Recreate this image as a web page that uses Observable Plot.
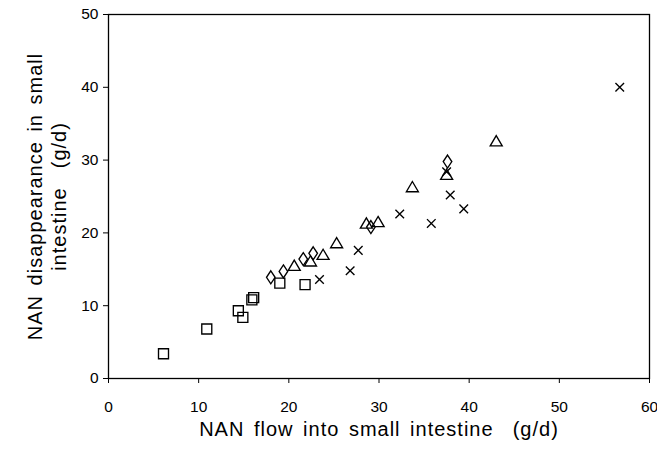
<!DOCTYPE html>
<html>
<head>
<meta charset="utf-8">
<script src="https://cdn.jsdelivr.net/npm/d3@7"></script>
<script src="https://cdn.jsdelivr.net/npm/@observablehq/plot@0.6"></script>
<style>
  html, body { margin: 0; padding: 0; background: #fff; }
  #chart svg { display: block; }
  #chart g[aria-label="text"] text { letter-spacing: 1px; word-spacing: 3px; }
</style>
</head>
<body>
<div id="chart"></div>
<script>
// Data: [x (NAN flow, g/d), y (NAN disappearance, g/d)]
const squares = [[6.1,3.4],[10.9,6.8],[14.4,9.3],[14.9,8.4],[15.9,10.8],[16.1,11.1],[19.0,13.1],[21.8,12.9]];
const diamonds = [[18.0,13.9],[19.4,14.7],[21.6,16.4],[22.7,17.2],[29.1,20.8],[37.6,29.8]];
const triangles = [[20.6,15.5],[22.4,16.1],[23.8,17.0],[25.3,18.6],[28.6,21.3],[29.9,21.5],[33.7,26.3],[37.5,28.0],[43.0,32.6]];
const crosses = [[23.4,13.6],[26.8,14.8],[27.7,17.6],[32.3,22.6],[35.8,21.3],[37.5,28.4],[37.9,25.2],[39.4,23.3],[56.7,40.0]];
const xTicks = [0,10,20,30,40,50,60];
const yTicks = [0,10,20,30,40,50];
const xLabel = "NAN flow into small intestine  (g/d)";
const yLabel = "NAN disappearance in small\nintestine  (g/d)";

// custom hollow symbols (size = r*r*PI)
const rad = s => Math.sqrt(s / Math.PI);
const symSquare = {draw(c, s) { const r = rad(s); c.rect(-r, -r, 2*r, 2*r); }};
const symDiamond = {draw(c, s) { const r = rad(s); c.moveTo(0,-r); c.lineTo(0.66*r,0); c.lineTo(0,r); c.lineTo(-0.66*r,0); c.closePath(); }};
const symTriangle = {draw(c, s) { const r = rad(s); c.moveTo(0,-0.92*r); c.lineTo(r,0.78*r); c.lineTo(-r,0.78*r); c.closePath(); }};
const symTimes = {draw(c, s) { const r = rad(s); c.moveTo(-r,-r); c.lineTo(r,r); c.moveTo(r,-r); c.lineTo(-r,r); }};

const dotOpts = (sym, r) => ({x: d => d[0], y: d => d[1], symbol: sym, r, fill: "none", stroke: "black", strokeWidth: 1.35});

const chart = Plot.plot({
  width: 657,
  height: 450,
  marginLeft: 108,
  marginRight: 8,
  marginTop: 14,
  marginBottom: 72,
  style: {fontFamily: "'Liberation Sans', Arial, sans-serif", color: "black", background: "white"},
  x: {domain: [0, 60]},
  y: {domain: [0, 50]},
  marks: [
    Plot.frame({stroke: "black", strokeWidth: 1.3}),
    Plot.axisX({ticks: xTicks, tickSize: 5, tickPadding: 17, fontSize: 15.5, label: null, stroke: "black"}),
    Plot.axisY({ticks: yTicks, tickSize: 5, tickPadding: 5, fontSize: 15.5, label: null, stroke: "black"}),
    Plot.text([xLabel], {frameAnchor: "bottom", dy: 57, text: d => d, fontSize: 20, fill: "black"}),
    Plot.text([yLabel], {frameAnchor: "left", textAnchor: "middle", dx: -62, rotate: -90, text: d => d, fontSize: 20, fill: "black", lineHeight: 1.2}),
    Plot.dot(squares, dotOpts(symSquare, 5)),
    Plot.dot(diamonds, dotOpts(symDiamond, 6.5)),
    Plot.dot(triangles, dotOpts(symTriangle, 6)),
    Plot.dot(crosses, dotOpts(symTimes, 4.3))
  ]
});
document.getElementById("chart").appendChild(chart);
</script>
</body>
</html>
